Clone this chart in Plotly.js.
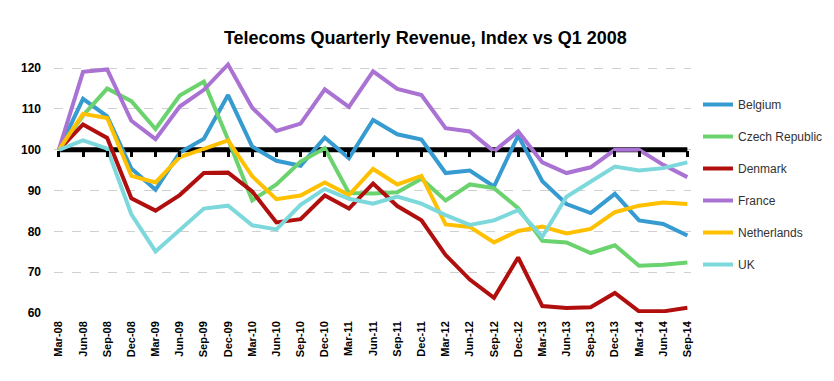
<!DOCTYPE html>
<html>
<head>
<meta charset="utf-8">
<script src="https://cdn.plot.ly/plotly-3.0.1.min.js"></script>
<style>html,body{margin:0;padding:0;background:#fff;}#chart{width:834px;height:381px;}</style>
</head>
<body>
<div id="chart"></div>
<script>
const quarters = ["Mar-08","Jun-08","Sep-08","Dec-08","Mar-09","Jun-09","Sep-09","Dec-09","Mar-10","Jun-10","Sep-10","Dec-10","Mar-11","Jun-11","Sep-11","Dec-11","Mar-12","Jun-12","Sep-12","Dec-12","Mar-13","Jun-13","Sep-13","Dec-13","Mar-14","Jun-14","Sep-14"];
const belgium     = [100,112.5,108.2,95.4,90.2,99.3,102.7,113.4,100.8,97.3,96.1,103.0,97.9,107.3,103.8,102.5,94.3,94.9,91.0,103.5,92.3,86.7,84.5,89.2,82.7,81.8,79.0];
const czech       = [100,108.4,115.0,111.9,105.1,113.3,116.7,102.5,87.6,91.5,97.1,100.4,89.4,89.3,89.6,92.9,87.6,91.5,90.6,85.7,77.7,77.3,74.7,76.6,71.6,71.8,72.4];
const denmark     = [100,106.2,102.9,88.1,85.1,88.9,94.3,94.4,89.8,82.2,83.0,88.8,85.6,91.7,86.2,82.7,74.2,68.2,63.7,73.6,61.7,61.2,61.4,64.9,60.4,60.4,61.3];
const france      = [100,119.1,119.7,107.1,102.6,110.6,114.7,120.9,110.3,104.6,106.4,114.8,110.5,119.2,114.9,113.4,105.3,104.5,99.6,104.5,96.9,94.3,95.7,100.0,100.0,96.3,93.3];
const netherlands = [100,108.8,107.8,93.6,92.0,98.2,100.2,102.3,93.5,87.9,88.8,92.0,88.9,95.3,91.5,93.6,81.7,81.1,77.3,80.1,81.2,79.5,80.6,84.7,86.3,87.1,86.7];
const uk          = [100,102.3,100.3,84.2,75.1,80.4,85.6,86.3,81.5,80.5,86.5,90.4,88.0,86.8,88.5,86.8,84.0,81.6,82.7,85.2,78.7,88.5,92.3,95.9,94.9,95.5,96.9];
const baseline    = quarters.map(() => 100);

const names  = ["Belgium","Czech Republic","Denmark","France","Netherlands","UK"];
const series = [belgium, czech, denmark, france, netherlands, uk];
const colors = ["#359BD0","#6AD36E","#B10E0E","#A972D3","#FFC000","#7DD8DC"];

const traces = [{
  x: quarters, y: baseline, xaxis: "x", yaxis: "y", type: "scatter", mode: "lines",
  line: {color: "#000", width: 5}, showlegend: false, hoverinfo: "skip"
}];
series.forEach((s, i) => traces.push({
  x: quarters, y: s, xaxis: "x2", yaxis: "y", type: "scatter", mode: "lines",
  name: names[i], legendgroup: names[i],
  line: {color: colors[i], width: 4}
}));

const xr = [-0.2, 26.15];
const yr = [60, 122];
const layout = {
  width: 834, height: 381,
  margin: {l: 54, r: 143, t: 60, b: 68},
  paper_bgcolor: "#fff", plot_bgcolor: "#fff",
  title: {text: "Telecoms Quarterly Revenue, Index vs Q1 2008",
          font: {family: "Liberation Sans, Arial, sans-serif", size: 18, color: "#000", weight: "bold"},
          x: 0.51, xanchor: "center", y: 0.9, yanchor: "middle"},
  font: {family: "Liberation Sans, Arial, sans-serif", color: "#000"},
  xaxis: {type: "category", range: xr, showgrid: false, zeroline: false, showline: false,
          ticks: "", tickangle: -90, ticklabelstandoff: 5,
          tickfont: {family: "Liberation Sans, Arial, sans-serif", size: 11, color: "#000", weight: "bold"}},
  xaxis2: {type: "category", range: xr, overlaying: "x", anchor: "free",
           position: (100 - yr[0]) / (yr[1] - yr[0]), side: "bottom",
           showgrid: false, zeroline: false, showline: false, showticklabels: false,
           ticks: "outside", ticklen: 6, tickwidth: 3, tickcolor: "#000"},
  yaxis: {range: yr, tickvals: [60,70,80,90,100,110,120], showgrid: true,
          gridcolor: "#d0d0d0", griddash: "dash", gridwidth: 1, zeroline: false, showline: false,
          ticks: "", ticklabelstandoff: 12,
          tickfont: {family: "Liberation Sans, Arial, sans-serif", size: 12, color: "#000", weight: "bold"}},
  showlegend: true,
  legend: {xref: "container", yref: "container", x: 698/834, xanchor: "left",
           y: 1 - 90/381, yanchor: "top", traceorder: "grouped", tracegroupgap: 13,
           bgcolor: "rgba(0,0,0,0)", borderwidth: 0,
           font: {family: "Liberation Sans, Arial, sans-serif", size: 12, color: "#333"}},
  hovermode: false
};
Plotly.newPlot("chart", traces, layout, {displayModeBar: false, staticPlot: true});
</script>
</body>
</html>
